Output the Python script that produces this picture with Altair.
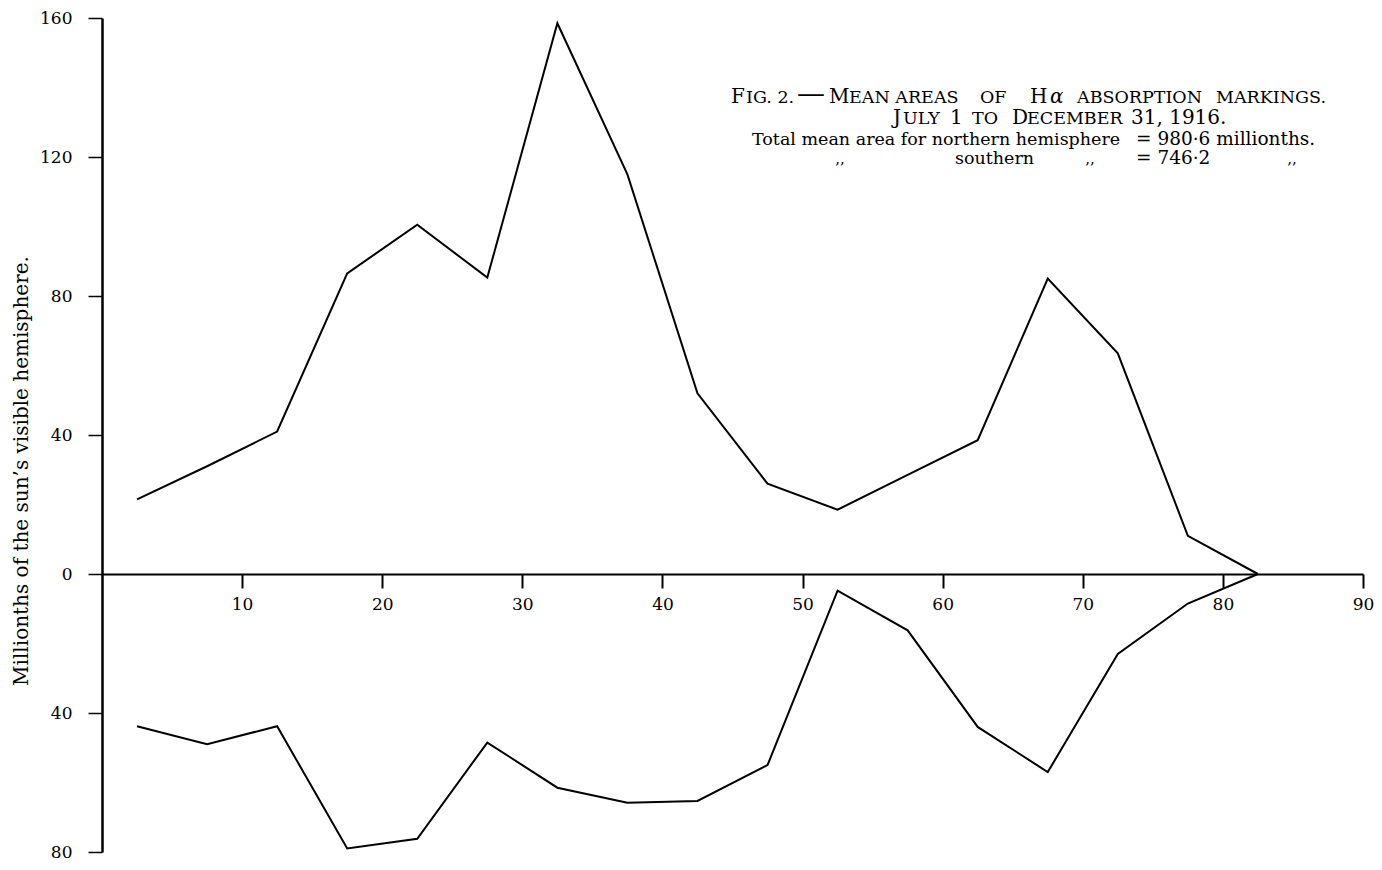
import altair as alt
import pandas as pd

SERIF = "DejaVu Serif"

# Latitude (degrees, centre of each 5-degree zone)
lat = [2.5, 7.5, 12.5, 17.5, 22.5, 27.5, 32.5, 37.5, 42.5, 47.5,
       52.5, 57.5, 62.5, 67.5, 72.5, 77.5, 82.5]
# Mean areas (millionths of the sun's visible hemisphere)
north = [21.5, 31, 41, 86.5, 100.5, 85.3, 158.5, 115, 52, 26,
         18.5, 28.5, 38.5, 85, 63.5, 11, 0]
south = [43.8, 49, 43.8, 79, 76.2, 48.5, 61.5, 65.8, 65.3, 55,
         4.8, 16.2, 44, 57, 23, 8.5, 0]
y_ticks = [160, 120, 80, 40, 0, -40, -80]
x_ticks = [10, 20, 30, 40, 50, 60, 70, 80, 90]

df = pd.DataFrame({
    "lat": lat + lat,
    "area": north + south,
    "hemi": ["northern"] * len(lat) + ["southern"] * len(lat),
})

W, H = 1261, 834
Y_MIN, Y_MAX = -80, 160
zero_offset = -(H * (0 - Y_MIN) / (Y_MAX - Y_MIN))

lines = alt.Chart(df).transform_calculate(
    plotted="datum.hemi == 'southern' ? -datum.area : datum.area"
).mark_line(color="black", strokeWidth=2).encode(
    x=alt.X("lat:Q",
            scale=alt.Scale(domain=[0, 90], nice=False, zero=False),
            axis=alt.Axis(values=x_ticks, orient="bottom", offset=zero_offset,
                          tickSize=14, tickWidth=2, tickColor="black",
                          domainColor="black", domainWidth=2,
                          labelFont=SERIF, labelFontSize=17, labelColor="black",
                          labelPadding=8, grid=False, title=None,
                          labelFlush=False, labelOverlap=False)),
    y=alt.Y("plotted:Q",
            scale=alt.Scale(domain=[Y_MIN, Y_MAX], nice=False, zero=False),
            axis=alt.Axis(values=y_ticks, labelExpr="abs(datum.value)",
                          tickSize=14, tickWidth=1.5, tickColor="black",
                          domainColor="black", domainWidth=2.5,
                          labelFont=SERIF, labelFontSize=17, labelColor="black",
                          labelPadding=16, grid=False, title=None,
                          labelFlush=False, labelOverlap=False)),
    detail="hemi:N",
)


def label(txt, x, y, size=16, align="left", baseline="alphabetic", **kw):
    return alt.Chart(alt.Data(values=[{}])).mark_text(
        text=txt, align=align, baseline=baseline, font=SERIF,
        fontSize=size, color="black", **kw
    ).encode(x=alt.value(x), y=alt.value(y))


BIG, SMALL = 20, 17.5
L1, L2, L3, L4 = 85, 106, 127, 146
OX = 102  # page x of plot origin

texts = [
    # Line 1 (small capitals emulated)
    label("F", 731 - OX, L1, BIG),
    label("IG. 2.", 746 - OX, L1, SMALL),
    label("—", 797 - OX, L1, 28),
    label("M", 829 - OX, L1, BIG),
    label("EAN AREAS", 849 - OX, L1, SMALL),
    label("OF", 980 - OX, L1, SMALL),
    label("H", 1030 - OX, L1, BIG),
    label("α", 1050 - OX, L1, BIG, fontStyle="italic"),
    label("ABSORPTION", 1077 - OX, L1, SMALL),
    label("MARKINGS.", 1216 - OX, L1, SMALL),
    # Line 2
    label("J", 893 - OX, L2, BIG),
    label("ULY", 903 - OX, L2, SMALL),
    label("1", 950 - OX, L2, BIG),
    label("TO", 972 - OX, L2, SMALL),
    label("D", 1012 - OX, L2, BIG),
    label("ECEMBER", 1027 - OX, L2, SMALL),
    label("31, 1916.", 1131 - OX, L2, BIG),
    # Line 3
    label("Total mean area for northern hemisphere", 752 - OX, L3, 17.5),
    label("= 980·6 millionths.", 1136 - OX, L3, 18.5),
    # Line 4
    label(",,", 840 - OX, L4, 15, align="center"),
    label("southern", 955 - OX, L4, 17.5),
    label(",,", 1090 - OX, L4, 15, align="center"),
    label("= 746·2", 1136 - OX, L4, 18.5),
    label(",,", 1292 - OX, L4, 15, align="center"),
    # Y-axis title
    label("Millionths of the sun’s visible hemisphere.", 22 - OX, 453, 20,
          align="center", baseline="middle", angle=270),
]

chart = alt.layer(lines, *texts).properties(
    width=W, height=H,
    autosize=alt.AutoSizeParams(type="none"),
    padding={"left": 94, "top": 10, "right": 11, "bottom": 9},
).configure_view(stroke=None)

chart.save("out.html", embed_options={"renderer": "svg", "actions": False})
